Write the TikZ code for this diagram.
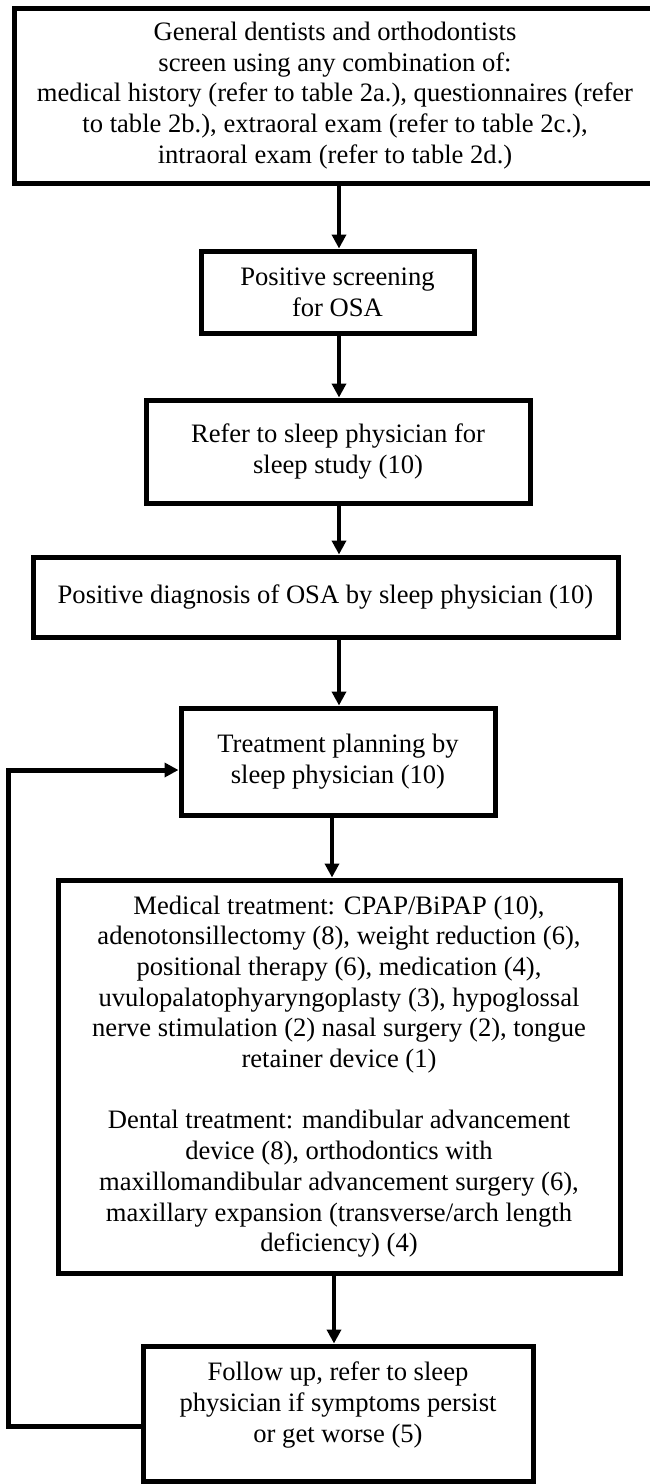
\documentclass[tikz,border=0pt]{standalone}
\usepackage{fontspec}
\setmainfont{Liberation Serif}
\usetikzlibrary{arrows.meta}
\begin{document}
\begin{tikzpicture}[x=1pt,y=-1pt,
  flowbox/.style={draw=black, line width=5pt, fill=white, align=center, inner sep=0pt,
    font=\fontsize{26.6pt}{30.7pt}\selectfont},
  arr/.style={line width=4.5pt, -{Triangle[length=14pt,width=14pt]}},
  loopline/.style={line width=5pt, line join=miter, -{Triangle[length=14pt,width=14pt]}}]
\useasboundingbox[fill=white] (0,0) rectangle (650,1484);

\node[flowbox, minimum width=642pt, minimum height=175pt] (b1) at (335,95.5)
 {General dentists and orthodontists\\
  screen using any combination of:\\
  medical history (refer to table 2a.), questionnaires (refer\\
  to table 2b.), extraoral exam (refer to table 2c.),\\
  intraoral exam (refer to table 2d.)};

\node[flowbox, minimum width=273pt, minimum height=82pt] (b2) at (337.5,292)
 {Positive screening\\ for OSA};

\node[flowbox, minimum width=384pt, minimum height=103pt] (b3) at (338,451.5)
 {Refer to sleep physician for\\ sleep study (10)};

\node[flowbox, minimum width=585pt, minimum height=80pt] (b4) at (325.5,597)
 {Positive diagnosis of OSA by sleep physician (10)};

\node[flowbox, minimum width=314pt, minimum height=107pt] (b5) at (338,761.5)
 {Treatment planning by\\ sleep physician (10)};

\node[flowbox, minimum width=562pt, minimum height=393pt] (b6) at (339,1076.5)
 {Medical treatment: CPAP/BiPAP (10),\\
  adenotonsillectomy (8), weight reduction (6),\\
  positional therapy (6), medication (4),\\
  uvulopalatophyaryngoplasty (3), hypoglossal\\
  nerve stimulation (2) nasal surgery (2), tongue\\
  retainer device (1)\\[30.7pt]
  Dental treatment: mandibular advancement\\
  device (8), orthodontics with\\
  maxillomandibular advancement surgery (6),\\
  maxillary expansion (transverse/arch length\\
  deficiency) (4)};

\node[flowbox, minimum width=390pt, minimum height=135pt, text depth=23pt] (b7) at (338,1413.5)
 {Follow up, refer to sleep\\ physician if symptoms persist\\ or get worse (5)};

\draw[arr] ([xshift=4pt]b1.south) -- ([xshift=1.5pt]b2.north);
\draw[arr] ([xshift=1.5pt]b2.south) -- ([xshift=1pt]b3.north);
\draw[arr] ([xshift=1pt]b3.south) -- ([xshift=13.5pt]b4.north);
\draw[arr] ([xshift=13.5pt]b4.south) -- ([xshift=1pt]b5.north);
\draw[arr] ([xshift=-6pt]b5.south) -- ([xshift=-7pt]b6.north);
\draw[arr] ([xshift=-5pt]b6.south) -- ([xshift=-4pt]b7.north);
\draw[loopline] ([yshift=-12.5pt]b7.west) -- ++(-132,0) |- ([yshift=-8.5pt]b5.west);
\end{tikzpicture}
\end{document}
